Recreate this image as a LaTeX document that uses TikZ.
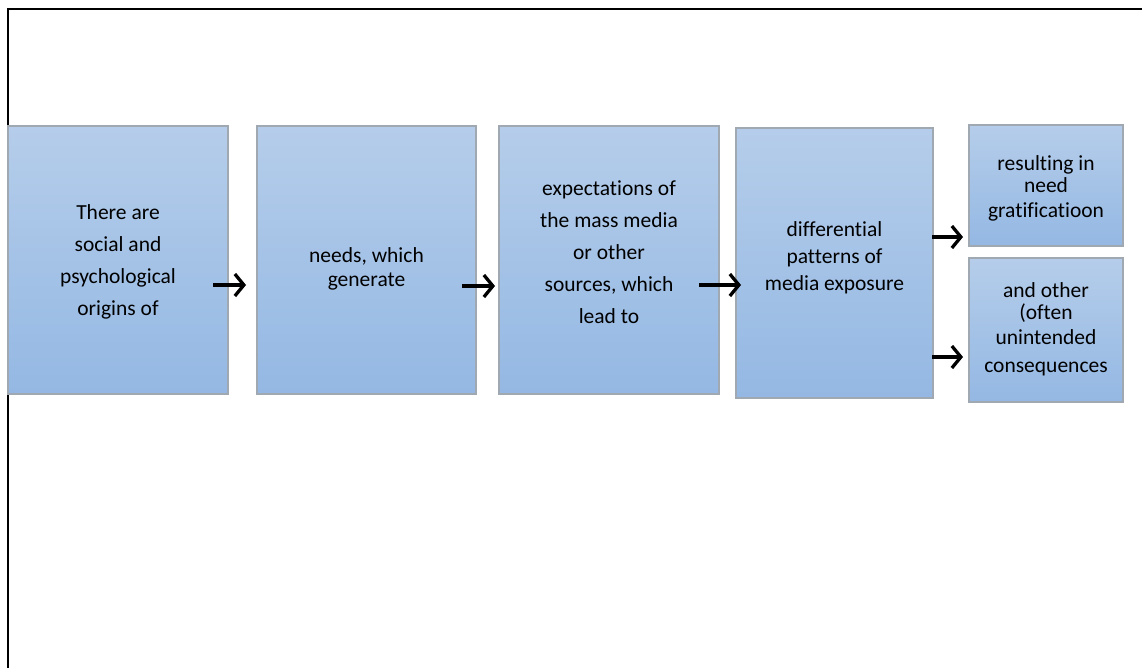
\documentclass[tikz,border=0pt]{standalone}
\usepackage{fontspec}
\setmainfont{Carlito}[Ligatures=NoCommon]
\usetikzlibrary{arrows.meta}
\definecolor{boxtop}{RGB}{181,205,234}
\definecolor{boxbot}{RGB}{148,184,227}
\definecolor{boxline}{RGB}{160,168,178}
\tikzset{
  box/.style={rectangle, draw=boxline, line width=1.2pt, top color=boxtop, bottom color=boxbot, inner sep=0pt},
  txt/.style={align=center, font=\fontsize{21.5}{32}\selectfont, inner sep=0pt},
  arr/.style={line width=3.3pt, -{Straight Barb[length=9pt,width=22pt]}},
}
\begin{document}
\begin{tikzpicture}[x=1pt,y=-1pt]
\useasboundingbox (0,0) rectangle (1142,668);
\draw[line width=2pt] (8,668) -- (8,9) -- (1142,9);
% boxes
\node[box, minimum width=220, minimum height=268] (b1) at (118,260) {};
\node[box, minimum width=219, minimum height=268] (b2) at (366.5,260) {};
\node[box, minimum width=220, minimum height=268] (b3) at (609,260) {};
\node[box, minimum width=197, minimum height=270] (b4) at (834.5,263) {};
\node[box, minimum width=154, minimum height=121] (b5) at (1046,185.5) {};
\node[box, minimum width=154, minimum height=144] (b6) at (1046,330) {};
% texts
\node[txt] (t1) at (118,262) {There are\\social and\\psychological\\origins of};
\node[txt, font=\fontsize{21.5}{24}\selectfont] (t2) at (366.5,269) {needs, which\\generate};
\node[txt] (t3) at (609,252) {expectations of\\the mass media\\or other\\sources, which\\lead to};
\node[txt, font=\fontsize{21.5}{27}\selectfont] (t4) at (834.5,258) {differential\\patterns of\\media exposure};
\node[txt, font=\fontsize{21.5}{22}\selectfont] (t5) at (1046,188) {resulting in\\need\\[3pt]gratificatioon};
\node[txt, font=\fontsize{21.5}{22}\selectfont] (t6) at (1046,329) {and other\\(often\\[3pt]unintended\\[6pt]consequences};
% arrows
\coordinate (a1s) at (213,285); \coordinate (a1e) at (246,285);
\coordinate (a2s) at (462,286); \coordinate (a2e) at (495,286);
\coordinate (a3s) at (699,285); \coordinate (a3e) at (741,285);
\coordinate (a4s) at (932,237); \coordinate (a4e) at (963,237);
\coordinate (a5s) at (932,357); \coordinate (a5e) at (963,357);
\draw[arr] (a1s) -- (a1e);
\draw[arr] (a2s) -- (a2e);
\draw[arr] (a3s) -- (a3e);
\draw[arr] (a4s) -- (a4e);
\draw[arr] (a5s) -- (a5e);
\end{tikzpicture}
\end{document}
